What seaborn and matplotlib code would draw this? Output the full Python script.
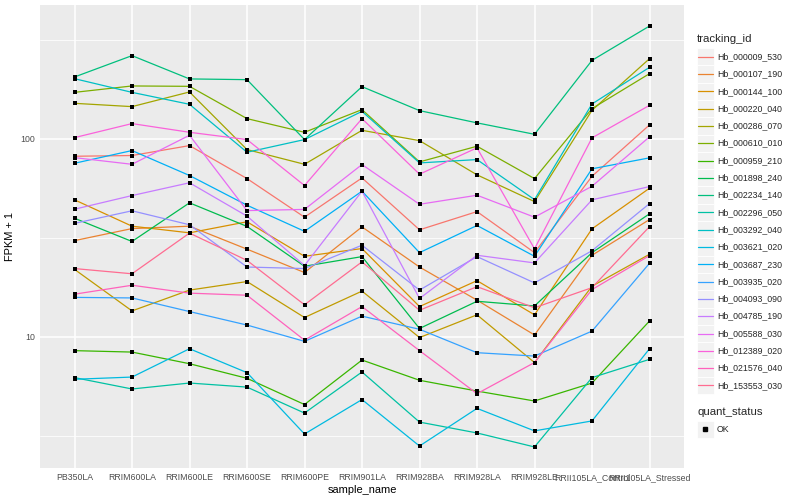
import matplotlib
matplotlib.use("Agg")
import matplotlib.pyplot as plt
import matplotlib.ticker as mticker
from matplotlib.lines import Line2D
from matplotlib.patches import Rectangle
import numpy as np
import pandas as pd
import seaborn as sns

samples = ["PB350LA", "RRIM600LA", "RRIM600LE", "RRIM600SE", "RRIM600PE", "RRIM901LA",
           "RRIM928BA", "RRIM928LA", "RRIM928LE", "RRII105LA_Control", "RRII105LA_Stressed"]

tracking_ids = ["Hb_000009_530", "Hb_000107_190", "Hb_000144_100", "Hb_000220_040",
                "Hb_000286_070", "Hb_000610_010", "Hb_000959_210", "Hb_001898_240",
                "Hb_002234_140", "Hb_002296_050", "Hb_003292_040", "Hb_003621_020",
                "Hb_003687_230", "Hb_003935_020", "Hb_004093_090", "Hb_004785_190",
                "Hb_005588_030", "Hb_012389_020", "Hb_021576_040", "Hb_153553_030"]

colors = ["#F8766D", "#EA8331", "#D89000", "#C09B00", "#A3A500", "#7CAE00", "#39B600",
          "#00BB4E", "#00BF7D", "#00C1A3", "#00BFC4", "#00BAE0", "#00B0F6", "#35A2FF",
          "#9590FF", "#C77CFF", "#E76BF3", "#FA62DB", "#FF62BC", "#FF6C91"]

# FPKM + 1 values, one per sample
Hb_000009_530 = [81.7, 82.4, 92.5, 63.0, 40.2, 63.5, 34.7, 42.9, 26.6, 64.7, 117.7]
Hb_000107_190 = [30.6, 35.2, 36.2, 27.7, 21.1, 35.9, 22.5, 15.3, 10.2, 25.8, 39.1]
Hb_000144_100 = [49.2, 36.2, 33.5, 38.1, 25.5, 27.9, 14.2, 19.2, 12.9, 35.1, 56.3]
Hb_000220_040 = [21.9, 13.5, 17.2, 19.0, 12.5, 17.0, 9.9, 12.9, 7.4, 18.0, 26.1]
Hb_000286_070 = [151.3, 145.6, 172.7, 88.3, 74.4, 110.5, 98.0, 65.8, 48.2, 139.5, 254.4]
Hb_000610_010 = [171.9, 185.2, 184.4, 126.6, 108.0, 140.6, 76.5, 91.8, 63.0, 142.3, 213.7]
Hb_000959_210 = [8.50, 8.36, 7.30, 6.16, 4.54, 7.62, 6.02, 5.31, 4.73, 5.83, 12.0]
Hb_001898_240 = [39.7, 30.3, 47.5, 36.1, 22.7, 25.4, 11.0, 15.1, 14.3, 26.6, 41.8]
Hb_002234_140 = [205.6, 263.6, 201.0, 199.3, 99.2, 183.7, 139.0, 120.5, 105.5, 249.5, 372.0]
Hb_002296_050 = [6.21, 5.44, 5.83, 5.56, 4.11, 6.63, 3.70, 3.26, 2.77, 6.21, 7.68]
Hb_003292_040 = [201.6, 171.9, 149.6, 85.6, 99.2, 137.8, 75.6, 78.6, 49.3, 150.2, 230.0]
Hb_003621_020 = [6.09, 6.25, 8.69, 6.58, 3.22, 4.81, 2.80, 4.34, 3.34, 3.75, 8.69]
Hb_003687_230 = [75.3, 87.3, 65.3, 46.2, 34.1, 54.4, 26.6, 36.5, 25.5, 70.6, 80.2]
Hb_003935_020 = [15.8, 15.7, 13.4, 11.45, 9.47, 12.7, 10.9, 8.3, 7.98, 10.67, 23.5]
Hb_004093_090 = [37.4, 43.3, 36.8, 22.5, 22.1, 29.0, 17.2, 25.4, 18.7, 27.2, 47.1]
Hb_004785_190 = [44.1, 51.7, 60.0, 40.7, 22.9, 54.4, 15.6, 25.8, 23.6, 49.2, 57.4]
Hb_005588_030 = [80.4, 74.4, 104.3, 43.4, 44.0, 74.2, 46.7, 51.9, 40.2, 57.6, 102.4]
Hb_012389_020 = [101.5, 119.5, 108.0, 99.2, 58.1, 126.6, 66.3, 90.1, 27.8, 101.2, 147.8]
Hb_021576_040 = [16.4, 18.2, 16.6, 16.2, 9.6, 14.2, 8.5, 5.15, 7.4, 17.3, 25.7]
Hb_153553_030 = [22.1, 20.8, 33.4, 24.3, 14.5, 23.9, 13.6, 17.9, 14.0, 17.7, 36.0]

series_values = [Hb_000009_530, Hb_000107_190, Hb_000144_100, Hb_000220_040, Hb_000286_070,
                 Hb_000610_010, Hb_000959_210, Hb_001898_240, Hb_002234_140, Hb_002296_050,
                 Hb_003292_040, Hb_003621_020, Hb_003687_230, Hb_003935_020, Hb_004093_090,
                 Hb_004785_190, Hb_005588_030, Hb_012389_020, Hb_021576_040, Hb_153553_030]

y_major = [10, 100]
y_major_labels = ["10", "100"]

rows = []
for tid, vals in zip(tracking_ids, series_values):
    for s, v in zip(samples, vals):
        rows.append((s, tid, v, "OK"))
df = pd.DataFrame(rows, columns=["sample_name", "tracking_id", "fpkm1", "quant_status"])
df["sample_name"] = pd.Categorical(df["sample_name"], categories=samples, ordered=True)

sns.set_theme(style="darkgrid")
plt.rcParams["font.family"] = ["Liberation Sans", "DejaVu Sans"]

W, H = 800, 500
fig = plt.figure(figsize=(8, 5), dpi=100)
fig.patch.set_facecolor("white")
ax = fig.add_axes([40 / W, 1 - 468 / H, (684 - 40) / W, (468 - 5) / H])
ax.set_facecolor("#EBEBEB")

palette = dict(zip(tracking_ids, colors))
sns.lineplot(data=df, x="sample_name", y="fpkm1", hue="tracking_id", hue_order=tracking_ids,
             palette=palette, sort=False, errorbar=None, estimator=None, linewidth=0.9,
             legend=False, ax=ax)
sns.scatterplot(data=df, x="sample_name", y="fpkm1", color="black", marker="s", s=12,
                linewidth=0, legend=False, ax=ax, zorder=3)

ax.set_yscale("log")
lo, hi = np.log10(2.77), np.log10(372.0)
pad = 0.05 * (hi - lo)
ax.set_ylim(10 ** (lo - pad), 10 ** (hi + pad))
ax.set_xlim(-0.6, len(samples) - 0.4)
ax.yaxis.set_major_locator(mticker.FixedLocator(y_major))
ax.yaxis.set_major_formatter(mticker.FixedFormatter(y_major_labels))
ax.yaxis.set_minor_locator(mticker.FixedLocator([10 ** 0.5, 10 ** 1.5, 10 ** 2.5]))
ax.yaxis.set_minor_formatter(mticker.NullFormatter())
ax.set_xticks(range(len(samples)))
ax.set_xticklabels(samples)

ax.grid(which="major", color="white", linewidth=1.1)
ax.grid(which="minor", axis="y", color="white", linewidth=0.55)
ax.set_axisbelow(True)
for sp in ax.spines.values():
    sp.set_visible(False)
ax.tick_params(axis="both", which="major", length=2.2, width=0.7, color="#333333",
               labelsize=6.3, labelcolor="#4D4D4D", pad=1.5)
ax.tick_params(axis="both", which="minor", length=0)
ax.set_xlabel("sample_name", fontsize=7.9, color="black", labelpad=2)
ax.set_ylabel("FPKM + 1", fontsize=7.9, color="black", labelpad=4)

# legends (drawn in figure pixel coordinates)
def fx(x):
    return x / W

def fy(y):
    return 1 - y / H

fig.text(fx(697), fy(39.5), "tracking_id", fontsize=8.2, va="center", ha="left")
key = 17.3
y0 = 56.7
for i, (tid, c) in enumerate(zip(tracking_ids, colors)):
    yc = y0 + key * i
    fig.patches.append(Rectangle((fx(696.5), fy(yc + key / 2)), key / W, key / H,
                                 transform=fig.transFigure, facecolor="#F2F2F2",
                                 edgecolor="white", linewidth=0.6))
    fig.lines.append(Line2D([fx(698), fx(712.5)], [fy(yc), fy(yc)], color=c, linewidth=0.9,
                            transform=fig.transFigure))
    fig.text(fx(717), fy(yc), tid, fontsize=6.3, va="center", ha="left")

fig.text(fx(697), fy(412), "quant_status", fontsize=8.2, va="center", ha="left")
yc = 429.3
fig.patches.append(Rectangle((fx(696.5), fy(yc + key / 2)), key / W, key / H,
                             transform=fig.transFigure, facecolor="#F2F2F2",
                             edgecolor="white", linewidth=0.6))
fig.lines.append(Line2D([fx(705)], [fy(yc)], color="black", marker="s", markersize=3.0,
                        linewidth=0, transform=fig.transFigure))
fig.text(fx(717), fy(yc), "OK", fontsize=6.3, va="center", ha="left")

fig.savefig("out.png", dpi=100)
